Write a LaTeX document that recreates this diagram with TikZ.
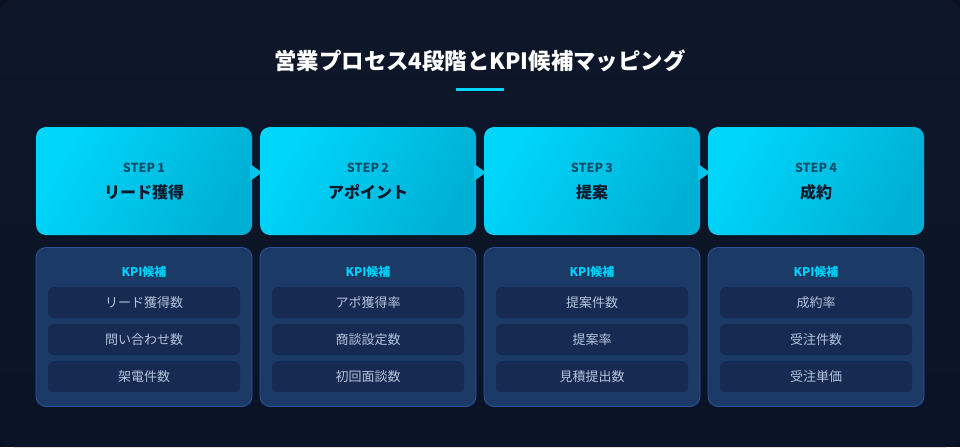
\documentclass[tikz,border=0pt]{standalone}
\usepackage{fontspec}
\setmainfont{Noto Sans CJK JP}
\usetikzlibrary{calc}
\definecolor{bgout}{HTML}{0A1222}
\definecolor{bgtop}{HTML}{0E1729}
\definecolor{bgbot}{HTML}{0B1426}
\definecolor{cyanA}{HTML}{00D6FC}
\definecolor{cyanB}{HTML}{00B0D4}
\definecolor{arrowc}{HTML}{00C6EE}
\definecolor{steplbl}{HTML}{0B5370}
\definecolor{stepname}{HTML}{0E1A2B}
\definecolor{kpifill}{HTML}{1C3A66}
\definecolor{kpiborder}{HTML}{2D5496}
\definecolor{itemfill}{HTML}{162A52}
\definecolor{itemtext}{HTML}{B4C4DC}
\definecolor{kpititle}{HTML}{00CFFA}
\tikzset{
  stepbox/.style={minimum width=216pt, minimum height=108pt, rounded corners=10pt, inner sep=0pt, left color=cyanA, right color=cyanB, shading angle=60},
  steplabel/.style={font=\bfseries\fontsize{12.5}{14}\selectfont, text=steplbl},
  stepnamestyle/.style={font=\bfseries\fontsize{16}{18}\selectfont, text=stepname},
  kpibox/.style={minimum width=216pt, minimum height=159pt, rounded corners=10pt, inner sep=0pt, fill=kpifill, draw=kpiborder, line width=0.8pt},
  kpihead/.style={font=\bfseries\fontsize{12}{14}\selectfont, text=kpititle},
  itembox/.style={minimum width=192pt, minimum height=31pt, rounded corners=6pt, inner sep=0pt, fill=itemfill, font=\fontsize{13}{15}\selectfont, text=itemtext},
  flowtri/.style={fill=arrowc}
}
\begin{document}
\begin{tikzpicture}[x=1pt,y=-1pt]
\useasboundingbox (0,0) rectangle (960,447);
\fill[bgout] (0,0) rectangle (960,447);
\shade[top color=bgtop, bottom color=bgbot, rounded corners=14pt] (0,0) rectangle (960,447);
\node[font=\bfseries\fontsize{22.4}{26}\selectfont, text=white] (title) at (480,61) {営業プロセス4段階とKPI候補マッピング};
\draw[cyanA, line width=3pt] (456,89) -- (504,89);
\foreach \i/\nm/\a/\b/\c in {1/リード獲得/リード獲得数/問い合わせ数/架電件数, 2/アポイント/アポ獲得率/商談設定数/初回面談数, 3/提案/提案件数/提案率/見積提出数, 4/成約/成約率/受注件数/受注単価}{
  \pgfmathsetmacro{\cx}{144+224*(\i-1)}
  \node[stepbox] (s\i) at (\cx,181) {};
  \node[steplabel] (sl\i) at (\cx,167.5) {STEP\hspace{0.18em}\i};
  \node[stepnamestyle] (sn\i) at (\cx,192) {\nm};
  \node[kpibox] (k\i) at (\cx,327) {};
  \node[kpihead] (kh\i) at (\cx,271.5) {KPI候補};
  \node[itembox] (ia\i) at (\cx,302.5) {\a};
  \node[itembox] (ib\i) at (\cx,339.5) {\b};
  \node[itembox] (ic\i) at (\cx,376.5) {\c};
}
\foreach \i/\j in {1/2,2/3,3/4}{
  \coordinate (m\i) at ($(s\i.east)!0.5!(s\j.west)+(0,-8.5)$);
  \fill[flowtri] ($(m\i)+(-6,-8.5)$) -- ($(m\i)+(6,0)$) -- ($(m\i)+(-6,8.5)$) -- cycle;
}
\end{tikzpicture}
\end{document}
